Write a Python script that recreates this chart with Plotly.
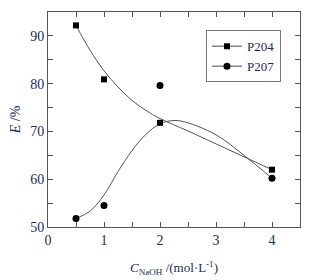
import plotly.graph_objects as go

# Measured data points
conc = [0.5, 1, 2, 4]
p204 = [92.2, 80.9, 71.8, 62.0]
p207 = [51.8, 54.5, 79.6, 60.2]

# Fitted curves
fit204_x = [0.5, 0.75, 1, 1.25, 1.5, 1.75, 2, 2.5, 3, 3.5, 4]
fit204_y = [92.2, 87.0, 82.7, 79.3, 76.5, 74.4, 72.7, 70.1, 67.4, 64.7, 62.0]
fit207_x = [0.5, 0.75, 1, 1.25, 1.5, 1.75, 2, 2.25, 2.5, 3, 3.5, 4]
fit207_y = [51.8, 53.3, 56.7, 61.6, 66.0, 69.4, 71.6, 72.3, 71.8, 69.3, 65.0, 60.2]

names = ["P204", "P207"]
x_ticks = [0, 1, 2, 3, 4]
y_ticks = [50, 60, 70, 80, 90]

font = "Liberation Serif, Times New Roman, serif"
line_col = "#555555"
tick_col = "#1e2a55"

fig = go.Figure()
fig.add_trace(go.Scatter(x=fit204_x, y=fit204_y, mode="lines", line=dict(color=line_col, width=1, shape="spline"), showlegend=False))
fig.add_trace(go.Scatter(x=fit207_x, y=fit207_y, mode="lines", line=dict(color=line_col, width=1, shape="spline"), showlegend=False))
fig.add_trace(go.Scatter(x=conc, y=p204, mode="markers", marker=dict(symbol="square", size=6, color="black"), showlegend=False))
fig.add_trace(go.Scatter(x=conc, y=p207, mode="markers", marker=dict(symbol="circle", size=7, color="black"), showlegend=False))
# legend entries
fig.add_trace(go.Scatter(x=[None], y=[None], mode="lines+markers", name=names[0],
                         line=dict(color="#888888", width=1.5), marker=dict(symbol="square", size=6, color="black")))
fig.add_trace(go.Scatter(x=[None], y=[None], mode="lines+markers", name=names[1],
                         line=dict(color="#888888", width=1.5), marker=dict(symbol="circle", size=7, color="black")))

axis_common = dict(showgrid=False, zeroline=False, showline=True, linecolor=line_col, linewidth=1,
                   mirror="ticks", ticks="inside", ticklen=5, tickcolor=line_col, automargin=False,
                   tickfont=dict(family=font, size=14, color=tick_col))

fig.update_xaxes(range=[0, 4.5], tickvals=x_ticks, ticktext=[str(v) for v in x_ticks],
                 minor=dict(dtick=0.5, tick0=0, ticks="inside", ticklen=5, tickcolor=line_col),
                 title=dict(text="<i>C</i><sub>NaOH</sub> /(mol·L<sup>-1</sup>)", font=dict(family=font, size=13, color=tick_col), standoff=16),
                 **axis_common)
fig.update_yaxes(range=[50, 95], tickvals=y_ticks, ticktext=[str(v) for v in y_ticks],
                 minor=dict(dtick=5, tick0=50, ticks="inside", ticklen=5, tickcolor=line_col),
                 title=dict(text="<i>E</i> /%", font=dict(family=font, size=14, color=tick_col), standoff=6),
                 **axis_common)

# page body adds an 8px offset, so the figure is sized to compensate
fig.update_layout(
    width=313, height=272,
    margin=dict(l=40, r=21, t=4, b=53),
    paper_bgcolor="white", plot_bgcolor="white",
    font=dict(family=font, color=tick_col),
    legend=dict(x=0.627, y=0.915, xanchor="left", yanchor="top",
                bordercolor="#777777", borderwidth=1, bgcolor="white",
                font=dict(family=font, size=13, color=tick_col), tracegroupgap=0,
                itemwidth=30),
)

fig.write_html("out.html")
